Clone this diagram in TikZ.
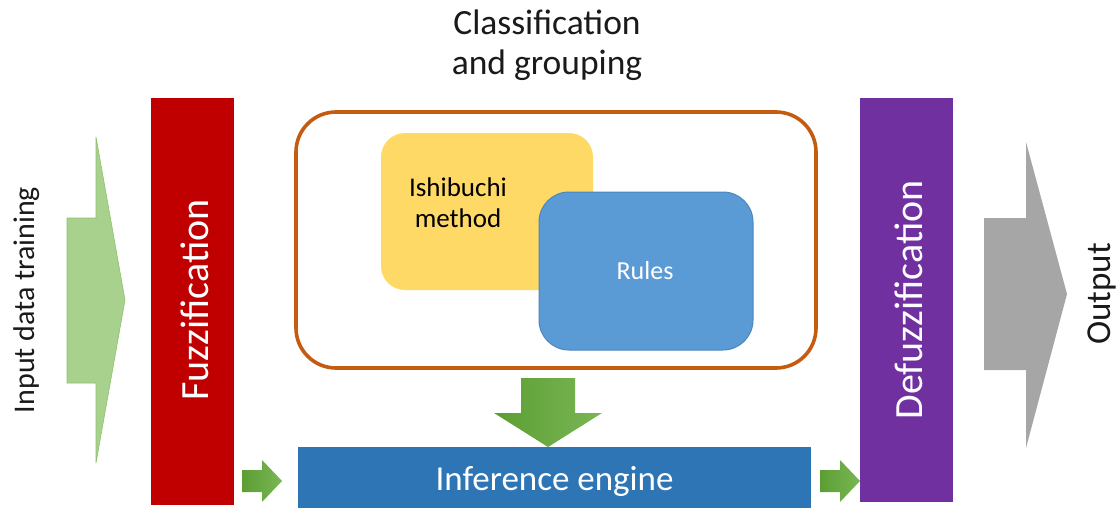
\documentclass[tikz,border=0pt]{standalone}
\usepackage{fontspec}
\setmainfont{Carlito}
\usetikzlibrary{calc}
\definecolor{cRed}{HTML}{C00000}
\definecolor{cPurple}{HTML}{7030A0}
\definecolor{cInf}{HTML}{2E75B6}
\definecolor{cRules}{HTML}{5B9BD5}
\definecolor{cRulesB}{HTML}{4A86BF}
\definecolor{cYellow}{HTML}{FFD966}
\definecolor{cOrange}{HTML}{C55A11}
\definecolor{cLightG}{HTML}{A9D18E}
\definecolor{cLightGB}{HTML}{8CC26B}
\definecolor{cGreenL}{HTML}{5C9E33}
\definecolor{cGreenR}{HTML}{7AB655}
\definecolor{cGray}{HTML}{A6A6A6}
\definecolor{cText}{HTML}{1A1A1A}
\tikzset{
  bar/.style={rectangle, inner sep=0pt, draw=none},
  roundbox/.style={rectangle, inner sep=0pt},
  lbl/.style={inner sep=0pt, anchor=base},
  greenfill/.style={left color=cGreenL, right color=cGreenR, draw=none},
  smallarr/.pic={\path[greenfill] (0,-11) -- (20,-11) -- (20,-21) -- (40,0) -- (20,21) -- (20,11) -- (0,11) -- cycle;}
}
\begin{document}
\begin{tikzpicture}[x=1pt,y=-1pt]
\useasboundingbox (0,0) rectangle (1118,508);

% title
\node[lbl, text=cText] (t1) at (547,35) {\fontsize{35.5}{42}\selectfont Classification};
\node[lbl, text=cText] (t2) at (547,75) {\fontsize{35.5}{42}\selectfont and grouping};

% input arrow
\path[fill=cLightG, draw=cLightGB, line width=0.6pt]
  (67,218) -- (96,218) -- (96,137) -- (125,300) -- (96,463) -- (96,383) -- (67,383) -- cycle;
\node[lbl, rotate=90, text=cText] (inp) at (34,300) {\fontsize{30}{36}\selectfont Input data training};

% fuzzification bar
\node[bar, fill=cRed, minimum width=83pt, minimum height=407pt] (fuzz) at (192.5,301.5) {};
\node[lbl, rotate=90, text=white] (fuzzt) at (208,300) {\fontsize{40}{48}\selectfont Fuzzification};

% classification container
\node[roundbox, draw=cOrange, line width=3.6pt, rounded corners=40pt,
      minimum width=520pt, minimum height=256pt] (cls) at (556,240) {};
\node[roundbox, fill=cYellow, rounded corners=24pt,
      minimum width=212pt, minimum height=157pt] (ish) at (487,211.5) {};
\node[lbl, text=black] (isht1) at (458,196) {\fontsize{27}{32}\selectfont Ishibuchi};
\node[lbl, text=black] (isht2) at (458,227) {\fontsize{27}{32}\selectfont method};
\node[roundbox, fill=cRules, draw=cRulesB, line width=1pt, rounded corners=30pt,
      minimum width=214pt, minimum height=158pt] (rules) at (646,271) {};
\node[lbl, text=white] (rulest) at (645,279) {\fontsize{26}{31}\selectfont Rules};

% down arrow
\path[greenfill] (521,378) -- (575,378) -- (575,413) -- (602,413) -- (548,447) -- (494,413) -- (521,413) -- cycle;

% inference engine
\node[bar, fill=cInf, minimum width=513pt, minimum height=61pt] (inf) at (554.5,477.5) {};
\node[lbl, text=white] (inft) at (554.5,490) {\fontsize{35}{42}\selectfont Inference engine};

% small arrows
\coordinate (ga) at (242,481);
\coordinate (gb) at (820,481);
\pic at (ga) {smallarr};
\pic at (gb) {smallarr};

% defuzzification bar
\node[bar, fill=cPurple, minimum width=93pt, minimum height=404pt] (defuzz) at (906.5,300) {};
\node[lbl, rotate=90, text=white] (defuzzt) at (922,300) {\fontsize{40}{48}\selectfont Defuzzification};

% output arrow
\path[fill=cGray] (984,218) -- (1026,218) -- (1026,142) -- (1067,294) -- (1026,448) -- (1026,370) -- (984,370) -- cycle;
\node[lbl, rotate=90, text=cText] (outt) at (1110,294) {\fontsize{35}{42}\selectfont Output};
\end{tikzpicture}
\end{document}
